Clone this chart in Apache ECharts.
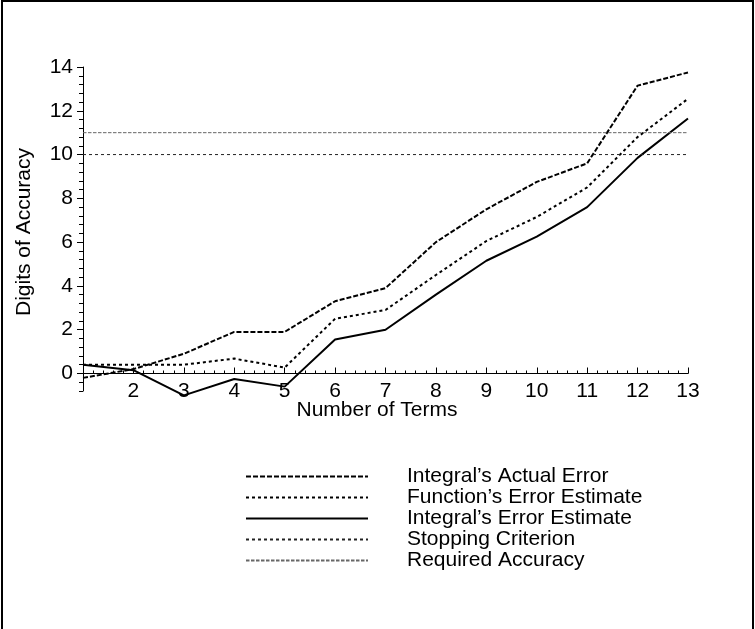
<!DOCTYPE html>
<html>
<head>
<meta charset="utf-8">
<script src="https://cdn.jsdelivr.net/npm/echarts@6/dist/echarts.min.js"></script>
<style>html,body{margin:0;padding:0;background:#fff;}#c{width:755px;height:629px;}</style>
</head>
<body>
<div id="c"></div>
<script>
var terms = [1, 2, 3, 4, 5, 6, 7, 8, 9, 10, 11, 12, 13];
var actualError = [-0.2, 0.2, 0.9, 1.9, 1.9, 3.3, 3.9, 6.0, 7.5, 8.75, 9.6, 13.15, 13.75];
var functionEstimate = [0.4, 0.4, 0.4, 0.68, 0.27, 2.5, 2.9, 4.5, 6.05, 7.15, 8.5, 10.8, 12.55];
var integralEstimate = [0.4, 0.15, -1.0, -0.25, -0.6, 1.55, 2.0, 3.6, 5.15, 6.25, 7.6, 9.85, 11.65];
var stoppingCriterion = [10, 10];
var requiredAccuracy = [11, 11];
var lineX = [1, 13];
var yTickLabels = [0, 2, 4, 6, 8, 10, 12, 14];
var seriesNames = ["Integral\u2019s Actual Error", "Function\u2019s Error Estimate", "Integral\u2019s Error Estimate", "Stopping Criterion", "Required Accuracy"];

function pairs(xs, ys) { return xs.map(function (x, i) { return [x, ys[i]]; }); }

var FONT = 'Liberation Sans, Arial, Helvetica, sans-serif';
var chart = echarts.init(document.getElementById('c'), null, {renderer: 'canvas'});
chart.setOption({
  animation: false,
  backgroundColor: '#fff',
  textStyle: {fontFamily: FONT},
  grid: {left: 83, right: 67, top: 67, bottom: 238, containLabel: false},
  xAxis: [{
    type: 'value', min: 1, max: 13, interval: 1, position: 'bottom', offset: -17.5,
    axisLine: {onZero: false, lineStyle: {color: '#000', width: 1}},
    axisTick: {show: true, inside: true, length: 6, lineStyle: {color: '#000'}},
    minorTick: {show: true, splitNumber: 5, length: 3, lineStyle: {color: '#000'}},
    splitLine: {show: false},
    axisLabel: {
      color: '#000', fontSize: 21, fontFamily: FONT, margin: 7,
      formatter: function (v) { return v === 1 ? '' : String(v); }
    }
  }],
  yAxis: [{
    type: 'value', min: -0.8, max: 14, interval: 0.4, position: 'left',
    axisLine: {show: true, onZero: false, lineStyle: {color: '#000', width: 1}},
    axisTick: {show: true, length: 4, lineStyle: {color: '#000'}},
    splitLine: {show: false},
    axisLabel: {
      color: '#000', fontSize: 21, fontFamily: FONT, margin: 10,
      formatter: function (v) {
        var r = Math.round(v);
        if (Math.abs(v - r) < 1e-6 && r >= 0 && r % 2 === 0) return String(r);
        return '';
      }
    }
  }, {
    type: 'value', min: -0.8, max: 14, position: 'left', offset: 0,
    axisLine: {show: false, onZero: false},
    axisTick: {show: true, length: 6, customValues: yTickLabels, lineStyle: {color: '#000'}},
    axisLabel: {show: false},
    splitLine: {show: false}
  }],
  legend: {
    orient: 'vertical', left: 245, top: 466, padding: 0,
    itemWidth: 122, itemHeight: 14, itemGap: 0,
    itemStyle: {opacity: 0},
    textStyle: {color: '#000', fontSize: 21, fontFamily: FONT, padding: [0, 0, 0, 34], lineHeight: 20},
    data: seriesNames
  },
  series: [{
    name: seriesNames[0], type: 'line', data: pairs(terms, actualError), symbol: 'none', clip: false,
    lineStyle: {color: '#000', width: 2, type: [5, 2]}, itemStyle: {color: '#000'}
  }, {
    name: seriesNames[1], type: 'line', data: pairs(terms, functionEstimate), symbol: 'none', clip: false,
    lineStyle: {color: '#000', width: 2, type: [3, 3]}, itemStyle: {color: '#000'}
  }, {
    name: seriesNames[2], type: 'line', data: pairs(terms, integralEstimate), symbol: 'none', clip: false,
    lineStyle: {color: '#000', width: 2, type: 'solid'}, itemStyle: {color: '#000'}
  }, {
    name: seriesNames[3], type: 'line', data: pairs(lineX, stoppingCriterion), symbol: 'none',
    lineStyle: {color: '#222', width: 1, type: [3, 3]}, itemStyle: {color: '#222'}
  }, {
    name: seriesNames[4], type: 'line', data: pairs(lineX, requiredAccuracy), symbol: 'none',
    lineStyle: {color: '#666', width: 1, type: [3.5, 1.5]}, itemStyle: {color: '#666'}
  }],
  graphic: [{
    type: 'rect', shape: {x: 2, y: 1, width: 751, height: 660},
    style: {fill: 'none', stroke: '#000', lineWidth: 2}, silent: true
  }, {
    type: 'text', x: 377, y: 410,
    style: {text: 'Number of Terms', fill: '#000', font: '21px ' + FONT, textAlign: 'center', textVerticalAlign: 'middle'}
  }, {
    type: 'text', x: 24, y: 232, rotation: Math.PI / 2,
    style: {text: 'Digits of Accuracy', fill: '#000', font: '21px ' + FONT, textAlign: 'center', textVerticalAlign: 'middle'}
  }]
});
</script>
</body>
</html>
